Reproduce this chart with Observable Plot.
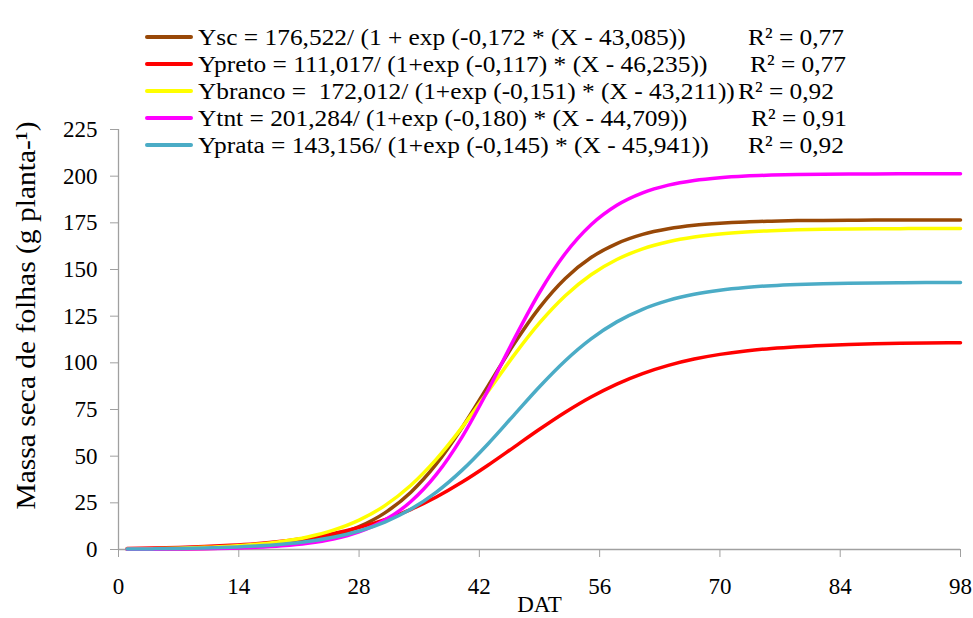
<!DOCTYPE html>
<html>
<head>
<meta charset="utf-8">
<script src="https://cdn.jsdelivr.net/npm/d3@7"></script>
<script src="https://cdn.jsdelivr.net/npm/@observablehq/plot@0.6"></script>
<style>
  body { margin: 0; background: #fff; }
  #wrap { position: relative; width: 973px; height: 618px; font-family: "Liberation Serif", "Times New Roman", serif; color: #000; }
  #chart { position: absolute; left: 0; top: 0; }
  .row { position: absolute; left: 0; height: 26px; line-height: 26px; font-size: 24px; white-space: nowrap; }
  .sw { position: absolute; left: 145px; top: 11px; width: 48px; height: 4px; border-radius: 2px; }
  .eq, .r2 { position: absolute; top: 0; display: inline-block; transform: scaleX(1.058); transform-origin: 0 50%; }
  .eq { left: 198px; }
</style>
</head>
<body>
<div id="wrap"><div id="chart"></div><div id="legend"></div></div>
<script>
// DAT (days after transplanting) sample positions
const dat = [1,4,7,10,13,16,19,22,25,28,31,34,37,40,43,46,49,52,55,58,61,64,67,70,73,76,79,82,85,88,91,94,97,98];

const ysc    = [0.13,0.21,0.36,0.59,0.99,1.66,2.76,4.57,7.53,12.26,19.63,30.59,45.87,65.38,87.5,109.9,129.6,145.2,156.4,163.9,168.8,171.8,173.7,174.8,175.5,175.9,176.2,176.3,176.4,176.5,176.5,176.5,176.5,176.5];
const ypreto = [0.56,0.79,1.12,1.58,2.23,3.14,4.41,6.15,8.54,11.76,15.98,21.41,28.13,36.11,45.13,54.74,64.41,73.55,81.71,88.64,94.27,98.67,102.03,104.53,106.37,107.71,108.67,109.35,109.84,110.18,110.43,110.6,110.73,110.76];
const ybranco= [0.29,0.46,0.72,1.14,1.78,2.78,4.33,6.72,10.34,15.72,23.5,34.27,48.39,65.55,84.64,103.85,121.37,135.96,147.2,155.36,161.04,164.87,167.4,169.05,170.12,170.8,171.24,171.52,171.7,171.81,171.88,171.93,171.96,171.97];
const ytnt   = [0.08,0.13,0.23,0.39,0.67,1.14,1.95,3.32,5.63,9.48,15.73,25.57,40.22,60.37,85.28,112.29,137.69,158.59,173.99,184.43,191.1,195.22,197.71,199.18,200.06,200.57,200.86,201.04,201.14,201.2,201.24,201.26,201.27,201.28];
const yprata = [0.21,0.33,0.5,0.78,1.2,1.84,2.82,4.31,6.56,9.89,14.72,21.53,30.75,42.52,56.55,71.89,87.2,101.14,112.83,121.94,128.67,133.43,136.7,138.91,140.38,141.35,141.98,142.39,142.66,142.83,142.94,143.02,143.06,143.07];

const seriesNames = ["Ysc","Ypreto","Ybranco","Ytnt","Yprata"];
const seriesValues = [ysc, ypreto, ybranco, ytnt, yprata];
const seriesColors = ["#984807","#ff0000","#ffff00","#ff00ff","#4bacc6"];
const equations = [
  "Ysc = 176,522/ (1 + exp (-0,172 * (X - 43,085))",
  "Ypreto = 111,017/ (1+exp (-0,117) * (X - 46,235))",
  "Ybranco =\u00a0 172,012/ (1+exp (-0,151) * (X - 43,211))",
  "Ytnt = 201,284/ (1+exp (-0,180) * (X - 44,709))",
  "Yprata = 143,156/ (1+exp (-0,145) * (X - 45,941))"
];
const r2Labels = ["R\u00b2 = 0,77","R\u00b2 = 0,77","R\u00b2 = 0,92","R\u00b2 = 0,91","R\u00b2 = 0,92"];
const xTicks = [0,14,28,42,56,70,84,98];
const yTicks = [0,25,50,75,100,125,150,175,200,225];
const xLabel = "DAT";
const yLabel = "Massa seca de folhas (g planta-\u00b9)";

const rows = seriesNames.flatMap((name, j) => dat.map((d, i) => ({dat: d, value: seriesValues[j][i], serie: name})));

const serifFont = '"Liberation Serif", "Times New Roman", serif';
const axisGray = "#a0a0a0";
const chart = Plot.plot({
  width: 973,
  height: 618,
  marginLeft: 118,
  marginRight: 13,
  marginTop: 129,
  marginBottom: 69,
  style: {fontFamily: serifFont, fontSize: "23px", color: "#000", background: "#fff", overflow: "visible"},
  x: {domain: [0, 98]},
  y: {domain: [0, 225]},
  color: {domain: seriesNames, range: seriesColors},
  marks: [
    Plot.axisY({ticks: yTicks, tickSize: 8, tickPadding: 13, stroke: axisGray, fill: "#000", label: null, fontSize: 23, fontFamily: serifFont}),
    Plot.axisX({ticks: xTicks, tickSize: 8, tickPadding: 20, stroke: axisGray, fill: "#000", label: null, fontSize: 23, fontFamily: serifFont}),
    Plot.ruleX([0], {stroke: axisGray, strokeWidth: 1.3}),
    Plot.ruleY([0], {stroke: axisGray, strokeWidth: 1.3}),
    Plot.line(rows, {x: "dat", y: "value", stroke: "serie", z: "serie", strokeWidth: 3.5, curve: "monotone-x"}),
    Plot.text([yLabel], {frameAnchor: "left", text: d => d, textAnchor: "middle", rotate: -90, dx: -92, dy: -24, fontSize: 28, fontFamily: serifFont, fill: "#000"}),
    Plot.text([xLabel], {frameAnchor: "bottom", text: d => d, textAnchor: "middle", dy: 62, fontSize: 23, fontFamily: serifFont, fill: "#000"})
  ]
});
// stretch the y-axis title slightly along its length to match the reference
d3.select(chart).selectAll("text").filter(function () { return this.textContent === yLabel; })
  .attr("textLength", 388).attr("lengthAdjust", "spacingAndGlyphs");
document.getElementById("chart").appendChild(chart);

// Legend (HTML overlay, top of chart)
const rowCenters = [37, 64, 91, 118, 145];
const r2Left = [748, 750, 738, 751, 748];
const legend = document.getElementById("legend");
seriesNames.forEach((name, j) => {
  const row = document.createElement("div");
  row.className = "row";
  row.style.top = (rowCenters[j] - 13) + "px";
  const sw = document.createElement("div");
  sw.className = "sw";
  sw.style.background = seriesColors[j];
  const eq = document.createElement("span");
  eq.className = "eq";
  eq.textContent = equations[j];
  const r2 = document.createElement("span");
  r2.className = "r2";
  r2.style.left = r2Left[j] + "px";
  r2.textContent = r2Labels[j];
  row.append(sw, eq, r2);
  legend.appendChild(row);
});
</script>
</body>
</html>
